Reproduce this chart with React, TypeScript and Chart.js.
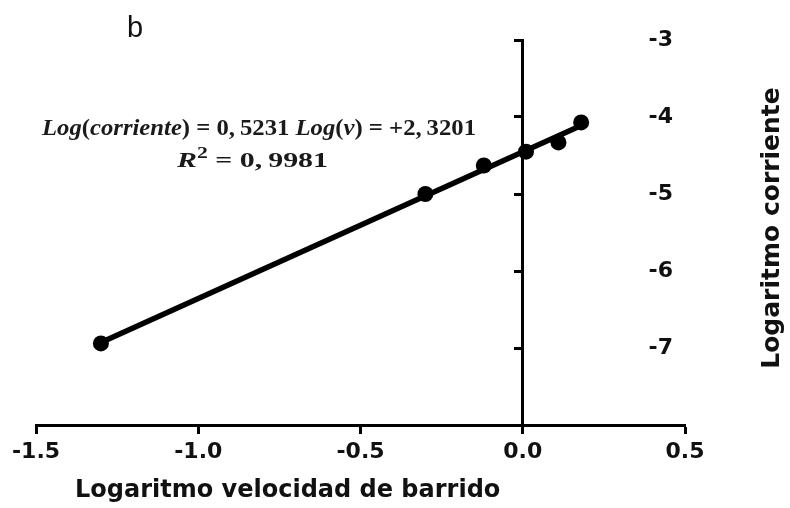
import React, { useEffect, useRef } from "react";
import { Chart, registerables } from "chart.js";

Chart.register(...registerables);

// Measured points: log of scan rate vs log of peak current
const logVelocity = [-1.3, -0.3, -0.12, 0.01, 0.11, 0.18];
const logCurrent = [-6.94, -5.0, -4.63, -4.45, -4.33, -4.07];

// Axis ticks and texts
const xTickValues = [-1.5, -1.0, -0.5, 0.0, 0.5];
const yTickValues = [-3, -4, -5, -6, -7];
const xTitle = "Logaritmo velocidad de barrido";
const yTitle = "Logaritmo corriente";
const panelLabel = "b";

type Run = { t: string; s: "i" | "n" | "sup" };
const equationLine1: Run[] = [
  { t: "Log", s: "i" },
  { t: "(", s: "n" },
  { t: "corriente", s: "i" },
  { t: ")", s: "n" },
  { t: " = 0,\u20095231 ", s: "n" },
  { t: "Log", s: "i" },
  { t: "(", s: "n" },
  { t: "v", s: "i" },
  { t: ")", s: "n" },
  { t: " = +2,\u20093201", s: "n" },
];
const equationLine2: Run[] = [
  { t: "R", s: "i" },
  { t: "2", s: "sup" },
  { t: " = 0,\u20099981", s: "n" },
];

const SANS = "'DejaVu Sans', 'Liberation Sans', sans-serif";
const SERIF = "'Liberation Serif', 'DejaVu Serif', serif";

// Least-squares line through the measured points
function fitLine(xs: number[], ys: number[]) {
  const n = xs.length;
  const mx = xs.reduce((a, b) => a + b, 0) / n;
  const my = ys.reduce((a, b) => a + b, 0) / n;
  let sxy = 0;
  let sxx = 0;
  for (let i = 0; i < n; i++) {
    sxy += (xs[i] - mx) * (ys[i] - my);
    sxx += (xs[i] - mx) * (xs[i] - mx);
  }
  const slope = sxy / sxx;
  const intercept = my - slope * mx;
  const x0 = Math.min(...xs);
  const x1 = Math.max(...xs);
  return [
    { x: x0, y: intercept + slope * x0 },
    { x: x1, y: intercept + slope * x1 },
  ];
}

function runFont(r: Run, size: number) {
  if (r.s === "i") return `italic bold ${size}px ${SERIF}`;
  if (r.s === "sup") return `bold ${Math.round(size * 0.72)}px ${SERIF}`;
  return `bold ${size}px ${SERIF}`;
}

function runsWidth(ctx: CanvasRenderingContext2D, runs: Run[], size: number) {
  let w = 0;
  for (const r of runs) {
    ctx.font = runFont(r, size);
    w += ctx.measureText(r.t).width;
  }
  return w;
}

// Draws a line of mixed-style runs, stretched horizontally to span `width`
function drawRuns(
  ctx: CanvasRenderingContext2D,
  runs: Run[],
  x: number,
  y: number,
  size: number,
  width: number
) {
  const sx = width / runsWidth(ctx, runs, size);
  ctx.save();
  ctx.translate(x, y);
  ctx.scale(sx, 1);
  let cx = 0;
  for (const r of runs) {
    ctx.font = runFont(r, size);
    const dy = r.s === "sup" ? -size * 0.4 : 0;
    ctx.fillText(r.t, cx, dy);
    cx += ctx.measureText(r.t).width;
  }
  ctx.restore();
}

const textPlugin = {
  id: "chartTexts",
  afterDraw(chart: any) {
    const ctx: CanvasRenderingContext2D = chart.ctx;
    ctx.save();
    ctx.fillStyle = "#111";
    ctx.textAlign = "left";
    ctx.textBaseline = "alphabetic";

    // panel letter
    ctx.font = `29px 'Liberation Sans', Arial, sans-serif`;
    ctx.fillText(panelLabel, 127, 37);

    // regression equation
    ctx.fillStyle = "#1a1a1a";
    drawRuns(ctx, equationLine1, 42, 135, 24, 434);
    drawRuns(ctx, equationLine2, 177, 167, 22, 151);

    // axis titles
    ctx.fillStyle = "#111";
    ctx.font = `bold 24px ${SANS}`;
    ctx.fillText(xTitle, 75, 497);

    ctx.translate(772, 228);
    ctx.rotate(-Math.PI / 2);
    ctx.font = `bold 25px ${SANS}`;
    ctx.textAlign = "center";
    ctx.textBaseline = "middle";
    ctx.fillText(yTitle, 0, 0);
    ctx.restore();
  },
};

export default function App() {
  const canvasRef = useRef<HTMLCanvasElement | null>(null);

  useEffect(() => {
    if (!canvasRef.current) return;
    const points = logVelocity.map((x, i) => ({ x, y: logCurrent[i] }));
    const fit = fitLine(logVelocity, logCurrent);

    const chart = new Chart(canvasRef.current, {
      type: "scatter",
      data: {
        datasets: [
          {
            data: fit,
            showLine: true,
            borderColor: "#000",
            borderWidth: 5.5,
            pointRadius: 0,
            yAxisID: "y",
          },
          {
            data: points,
            backgroundColor: "#000",
            borderColor: "#000",
            pointRadius: 8,
            pointBorderWidth: 0,
            yAxisID: "y",
          },
        ],
      },
      options: {
        responsive: false,
        animation: false,
        layout: { padding: { left: 36, top: 40, right: 0, bottom: 0 } },
        plugins: {
          legend: { display: false },
          tooltip: { enabled: false },
        },
        scales: {
          x: {
            type: "linear",
            position: "bottom",
            min: -1.5,
            max: 0.5,
            afterBuildTicks: (s: any) => {
              s.ticks = xTickValues.map((v) => ({ value: v }));
            },
            afterFit: (s: any) => {
              s.height = 83;
            },
            ticks: {
              autoSkip: false,
              maxRotation: 0,
              padding: 5,
              color: "#111",
              font: { family: SANS, size: 22, weight: "bold" },
              callback: (v: any) => Number(v).toFixed(1),
            },
            grid: {
              display: true,
              drawOnChartArea: false,
              drawTicks: true,
              tickLength: 9,
              tickWidth: 3,
              tickColor: "#000",
            },
            border: { display: true, color: "#000", width: 3 },
          },
          y: {
            type: "linear",
            position: "right",
            min: -8,
            max: -3,
            afterBuildTicks: (s: any) => {
              s.ticks = yTickValues.map((v) => ({ value: v }));
            },
            afterFit: (s: any) => {
              s.width = 105;
            },
            ticks: {
              mirror: true,
              crossAlign: "near",
              padding: -12,
              color: "#111",
              font: { family: SANS, size: 22, weight: "bold" },
              callback: (v: any) => String(v),
            },
            grid: { display: false, drawTicks: false },
            border: { display: false },
          },
          yAxisLine: {
            type: "linear",
            axis: "y",
            position: { x: 0 },
            min: -8,
            max: -3,
            afterBuildTicks: (s: any) => {
              s.ticks = yTickValues.map((v) => ({ value: v }));
            },
            ticks: { display: false },
            grid: {
              display: true,
              drawOnChartArea: false,
              drawTicks: true,
              tickLength: 7,
              tickWidth: 3,
              tickColor: "#000",
              color: "#000",
            },
            border: { display: true, color: "#000", width: 3 },
          },
        } as any,
      },
      plugins: [textPlugin],
    });

    return () => chart.destroy();
  }, []);

  return (
    <div
      style={{
        position: "fixed",
        left: 0,
        top: 0,
        width: 790,
        height: 508,
        background: "#fff",
      }}
    >
      <canvas ref={canvasRef} width={790} height={508} style={{ display: "block" }} />
    </div>
  );
}
